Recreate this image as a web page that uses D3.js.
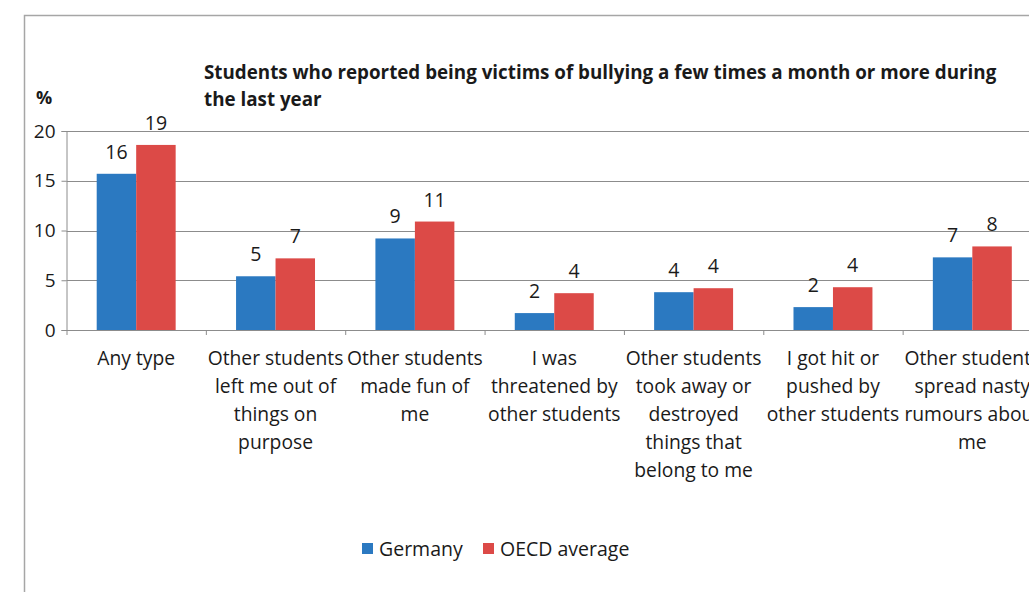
<!DOCTYPE html>
<html>
<head>
<meta charset="utf-8">
<script src="https://cdn.jsdelivr.net/npm/d3@7"></script>
<style>
  body { margin: 0; background: #fff; }
  text { font-family: "Open Sans", Lato, sans-serif; fill: #1a1a1a; }
</style>
</head>
<body>
<div id="chart"></div>
<script>
// data
var categories = ["Any type", "Left out", "Made fun of", "Threatened", "Took away", "Hit or pushed", "Rumours"];
var categoryLabels = [
  ["Any type"],
  ["Other students", "left me out of", "things on", "purpose"],
  ["Other students", "made fun of", "me"],
  ["I was", "threatened by", "other students"],
  ["Other students", "took away or", "destroyed", "things that", "belong to me"],
  ["I got hit or", "pushed by", "other students"],
  ["Other students", "spread nasty", "rumours about", "me"]
];
var seriesNames = ["Germany", "OECD average"];
var germany = [15.7, 5.4, 9.2, 1.7, 3.8, 2.3, 7.3];
var oecd = [18.6, 7.2, 10.9, 3.7, 4.2, 4.3, 8.4];
var yTicks = [0, 5, 10, 15, 20];
var titleLines = ["Students who reported being victims of bullying a few times a month or more during", "the last year"];

var colors = { "Germany": "#2b79c1", "OECD average": "#dc4a47" };

var svgWidth = 1029;
var svgHeight = 592;

var plot = { left: 66.5, right: 1042, top: 131, bottom: 330 };

var svg = d3.select("#chart")
  .append("svg")
  .attr("width", svgWidth)
  .attr("height", svgHeight);

svg.append("rect")
  .attr("width", svgWidth)
  .attr("height", svgHeight)
  .attr("fill", "#fff");

// chart frame (only left and top edge are visible)
svg.append("path")
  .attr("d", "M24.5," + svgHeight + "V15.5H" + svgWidth)
  .attr("fill", "none")
  .attr("stroke", "#a6a6a6")
  .attr("stroke-width", 1.5);

var x0 = d3.scaleBand()
  .domain(categories)
  .range([plot.left, plot.right]);

var x1 = d3.scaleBand()
  .domain(seriesNames)
  .range([0, x0.bandwidth()])
  .paddingOuter(0.765);

var y = d3.scaleLinear()
  .domain([0, 20])
  .range([plot.bottom, plot.top]);

// gridlines
svg.append("g")
  .selectAll("line")
  .data(yTicks.slice(1))
  .enter()
  .append("line")
  .attr("x1", plot.left)
  .attr("x2", plot.right)
  .attr("y1", d => Math.round(y(d)) + 0.5)
  .attr("y2", d => Math.round(y(d)) + 0.5)
  .attr("stroke", "#8c8c8c")
  .attr("stroke-width", 1);

// y axis
var leftAxis = d3.axisLeft(y)
  .tickValues(yTicks)
  .tickSize(5)
  .tickPadding(6);

var yAxis = svg.append("g")
  .attr("transform", `translate(${plot.left}, 0)`)
  .call(leftAxis);
yAxis.select(".domain").attr("stroke", "#8c8c8c");
yAxis.selectAll(".tick line").attr("stroke", "#8c8c8c");
yAxis.selectAll(".tick text")
  .style("font-size", "19px")
  .attr("fill", "#1a1a1a");

// x axis: tick marks at category boundaries
var bottomAxis = d3.axisBottom(x0).tickSize(0).tickFormat("");
var xAxis = svg.append("g")
  .attr("transform", `translate(0, ${Math.round(plot.bottom) + 0.5})`)
  .call(bottomAxis);
xAxis.select(".domain").attr("stroke", "#8c8c8c").attr("d", `M${plot.left},0H${plot.right}`);

svg.append("g")
  .selectAll("line")
  .data(categories)
  .enter()
  .append("line")
  .attr("x1", d => x0(d) + 0.5)
  .attr("x2", d => x0(d) + 0.5)
  .attr("y1", plot.bottom)
  .attr("y2", plot.bottom + 5)
  .attr("stroke", "#8c8c8c");

// category labels
var catLabels = svg.append("g")
  .selectAll("text")
  .data(categories)
  .enter()
  .append("text")
  .attr("text-anchor", "middle")
  .style("font-size", "19.3px")
  .attr("transform", d => `translate(${x0(d) + x0.bandwidth() / 2}, 365)`);

catLabels.selectAll("tspan")
  .data((d, i) => categoryLabels[i])
  .enter()
  .append("tspan")
  .attr("x", 0)
  .attr("dy", (d, i) => i === 0 ? 0 : 28)
  .text(d => d);

// bars
var rows = categories.map((c, i) => ({
  category: c,
  values: [
    { series: "Germany", value: germany[i] },
    { series: "OECD average", value: oecd[i] }
  ]
}));

var groups = svg.append("g")
  .selectAll("g")
  .data(rows)
  .enter()
  .append("g")
  .attr("transform", d => `translate(${x0(d.category)}, 0)`);

groups.selectAll("rect")
  .data(d => d.values)
  .enter()
  .append("rect")
  .attr("x", d => x1(d.series))
  .attr("y", d => y(d.value))
  .attr("width", x1.bandwidth())
  .attr("height", d => y(0) - y(d.value))
  .attr("fill", d => colors[d.series]);

groups.selectAll("text")
  .data(d => d.values)
  .enter()
  .append("text")
  .attr("x", d => x1(d.series) + x1.bandwidth() / 2)
  .attr("y", d => y(d.value) - 15)
  .attr("text-anchor", "middle")
  .style("font-size", "19.5px")
  .text(d => d3.format(".0f")(d.value));

// title
svg.append("text")
  .attr("x", 204)
  .attr("y", 79)
  .style("font-size", "18.8px")
  .style("font-weight", "bold")
  .selectAll("tspan")
  .data(titleLines)
  .enter()
  .append("tspan")
  .attr("x", 204)
  .attr("dy", (d, i) => i === 0 ? 0 : 27)
  .text(d => d);

svg.append("text")
  .attr("x", 36)
  .attr("y", 104)
  .style("font-size", "18px")
  .style("font-weight", "bold")
  .text("%");

// legend
var legend = svg.append("g")
  .attr("transform", "translate(362, 549)");

var legendOffsets = [0, 121];
var legendItem = legend.selectAll("g")
  .data(seriesNames)
  .enter()
  .append("g")
  .attr("transform", (d, i) => `translate(${legendOffsets[i]}, 0)`);

legendItem.append("rect")
  .attr("x", 0)
  .attr("y", -6)
  .attr("width", 11)
  .attr("height", 11)
  .attr("fill", d => colors[d]);

legendItem.append("text")
  .attr("x", 17)
  .attr("y", 6.5)
  .style("font-size", "19.5px")
  .text(d => d);
</script>
</body>
</html>
